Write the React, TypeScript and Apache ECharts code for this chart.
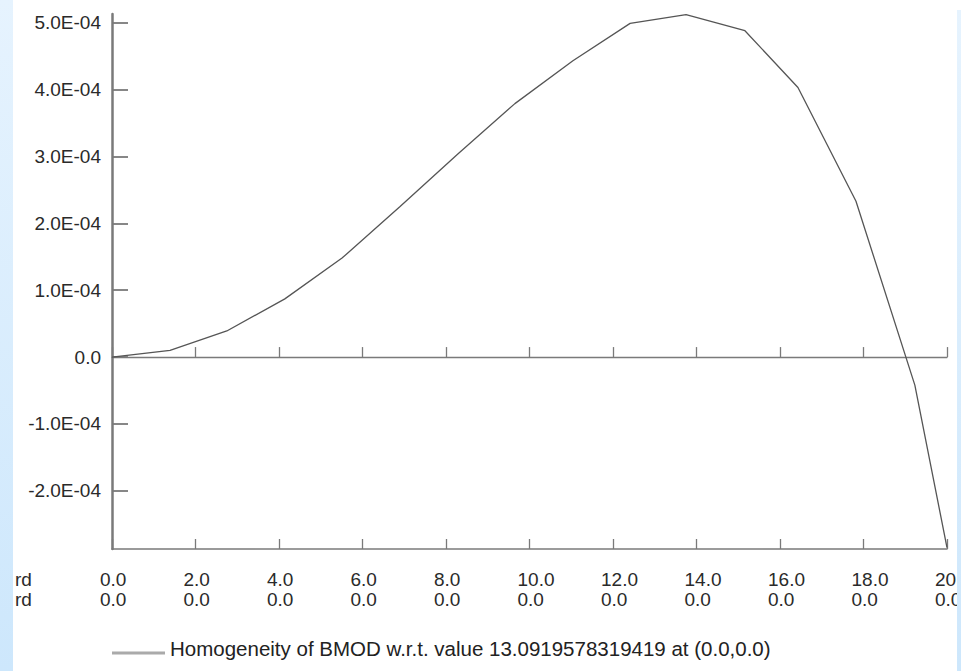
import React, { useEffect, useRef } from "react";
import * as echarts from "echarts";

const seriesName = "Homogeneity of BMOD w.r.t. value 13.0919578319419 at (0.0,0.0)";
const xValues = [0, 1.39, 2.75, 4.14, 5.51, 6.9, 8.29, 9.65, 11.04, 12.41, 13.75, 15.16, 16.43, 17.82, 19.23, 20];
const yValues = [0, 0.1e-4, 0.39e-4, 0.87e-4, 1.48e-4, 2.25e-4, 3.04e-4, 3.79e-4, 4.43e-4, 4.99e-4, 5.12e-4, 4.88e-4, 4.03e-4, 2.33e-4, -0.42e-4, -2.85e-4];
const yTicks = [-2e-4, -1e-4, 0, 1e-4, 2e-4, 3e-4, 4e-4, 5e-4];
const yTickLabels = ["-2.0E-04", "-1.0E-04", "0.0", "1.0E-04", "2.0E-04", "3.0E-04", "4.0E-04", "5.0E-04"];
const xTickLabelsRow1 = ["0.0", "2.0", "4.0", "6.0", "8.0", "10.0", "12.0", "14.0", "16.0", "18.0", "20.0"];
const xTickLabelsRow2 = ["0.0", "0.0", "0.0", "0.0", "0.0", "0.0", "0.0", "0.0", "0.0", "0.0", "0.0"];
const rowCaptions = ["rd", "rd"];

const FONT = "'Liberation Sans', Arial, Helvetica, sans-serif";
const AXIS = "#7a7a7a";

export default function App() {
  const ref = useRef<HTMLDivElement>(null);
  useEffect(() => {
    if (!ref.current) return;
    const chart = echarts.init(ref.current, null, { renderer: "svg" });
    const yLabel = (v: number) => {
      let best = 0;
      for (let i = 0; i < yTicks.length; i++) {
        if (Math.abs(yTicks[i] - v) < Math.abs(yTicks[best] - v)) best = i;
      }
      return yTickLabels[best];
    };
    const xLabel = (v: number) => {
      const i = Math.round(v / 2);
      return `${xTickLabelsRow1[i]}\n${xTickLabelsRow2[i]}`;
    };
    const stripGrad = new echarts.graphic.LinearGradient(0, 0, 0, 1, [
      { offset: 0, color: "#e6f3fe" },
      { offset: 1, color: "#cde7fc" },
    ]);
    chart.setOption({
      animation: false,
      backgroundColor: "#ffffff",
      grid: { left: 112, right: 14, top: 14, bottom: 122, containLabel: false, outerBoundsMode: "none" },
      xAxis: [
        {
          type: "value",
          min: 0,
          max: 20,
          interval: 2,
          axisLine: { show: true, onZero: true, lineStyle: { color: AXIS, width: 1.3 } },
          axisTick: { show: true, inside: true, length: 10, lineStyle: { color: AXIS, width: 1.3 } },
          axisLabel: { show: false },
          splitLine: { show: false },
        },
        {
          type: "value",
          min: 0,
          max: 20,
          interval: 2,
          position: "bottom",
          axisLine: { show: true, onZero: false, lineStyle: { color: AXIS, width: 1.6 } },
          axisTick: { show: true, inside: true, length: 10, lineStyle: { color: AXIS, width: 1.3 } },
          axisLabel: {
            show: true,
            formatter: xLabel,
            margin: 20,
            align: "left",
            verticalAlign: "top",
            padding: [0, 0, 0, -12],
            lineHeight: 20,
            fontSize: 19,
            fontFamily: FONT,
            color: "#2a2a2a",
            hideOverlap: false,
          },
          splitLine: { show: false },
        },
      ],
      yAxis: {
        type: "value",
        min: -2.87e-4,
        max: 5.13e-4,
        axisLine: { show: true, onZero: false, lineStyle: { color: AXIS, width: 2.5 } },
        axisTick: { show: true, inside: true, length: 16, customValues: yTicks, lineStyle: { color: AXIS, width: 1.8 } },
        axisLabel: {
          show: true,
          customValues: yTicks,
          formatter: yLabel,
          margin: 11,
          padding: [10, 0, 0, 0],
          fontSize: 19,
          fontFamily: FONT,
          color: "#2a2a2a",
        },
        splitLine: { show: false },
      },
      legend: {
        show: true,
        left: 107,
        top: 633,
        itemWidth: 53,
        itemHeight: 12,
        icon: "path://M0,0 L0,0 M0,9 L53,9 L53,12 L0,12 Z",
        data: [{ name: seriesName, itemStyle: { color: "#aaaaaa" } }],
        textStyle: { fontSize: 20.5, fontFamily: FONT, color: "#222" },
      },
      series: [
        {
          name: seriesName,
          type: "line",
          xAxisIndex: 0,
          data: xValues.map((x, i) => [x, yValues[i]]),
          showSymbol: false,
          symbol: "none",
          lineStyle: { color: "#555555", width: 1.3 },
          itemStyle: { color: "#555555" },
          clip: false,
        },
      ],
      graphic: [
        {
          type: "text",
          left: 15,
          top: 570,
          z: 50,
          style: { text: rowCaptions[0], font: `19px ${FONT}`, fill: "#2a2a2a" },
        },
        {
          type: "text",
          left: 15,
          top: 590,
          z: 50,
          style: { text: rowCaptions[1], font: `19px ${FONT}`, fill: "#2a2a2a" },
        },
        { type: "rect", left: 0, top: 0, z: 100, shape: { width: 13, height: 671 }, style: { fill: stripGrad } },
        { type: "rect", left: 957, top: 10, z: 100, shape: { width: 4, height: 661 }, style: { fill: stripGrad } },
      ],
    });
    return () => chart.dispose();
  }, []);
  return (
    <div
      ref={ref}
      style={{ position: "fixed", left: 0, top: 0, width: 961, height: 671 }}
    />
  );
}
